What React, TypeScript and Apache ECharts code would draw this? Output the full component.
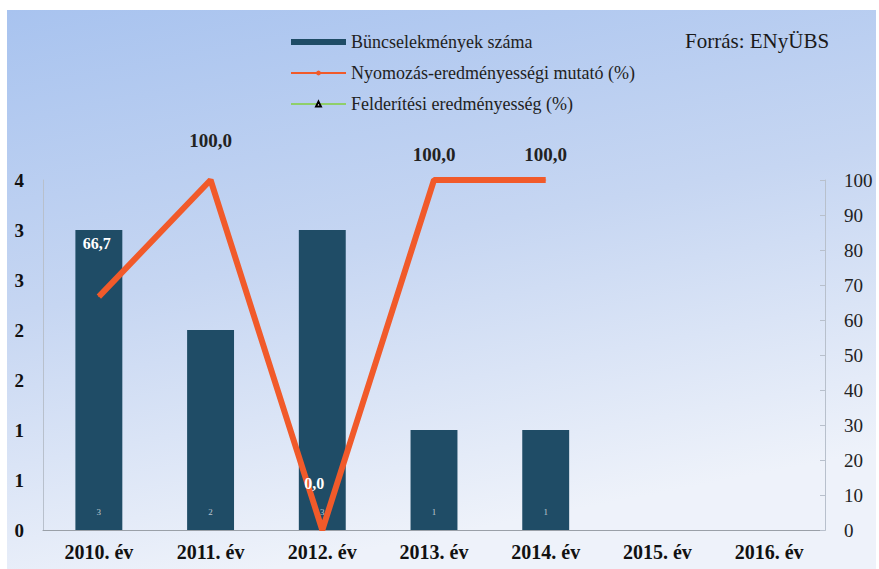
import React, { useEffect, useRef } from "react";
import * as echarts from "echarts";

const categories = ["2010. év", "2011. év", "2012. év", "2013. év", "2014. év", "2015. év", "2016. év"];
const crimeCounts = [3, 2, 3, 1, 1, 0, 0];
const investigationRate = [66.7, 100, 0, 100, 100, null, null];
const detectionRate = [null, null, null, null, null, null, null];
const seriesNames = ["Büncselekmények száma", "Nyomozás-eredményességi mutató (%)", "Felderítési eredményesség (%)"];
const sourceText = "Forrás: ENyÜBS";

// label placement (layout only)
const lineLabelDistance = [45, 30, 38, 16, 16, 0, 0];
const lineLabelShiftX = [-2, 0, -8, 0, 0, 0, 0];

const SERIF = "serif";

export default function App() {
  const ref = useRef<HTMLDivElement>(null);
  useEffect(() => {
    document.body.style.margin = "0";
    const chart = echarts.init(ref.current!, null, { renderer: "svg" });
    const fmt = (v: number) => v.toFixed(1).replace(".", ",");
    const lineData = investigationRate.map((v, i) => {
      if (v === null) return null;
      const inside = v < 90;
      return {
        value: v,
        label: {
          color: inside ? "#ffffff" : "#222222",
          distance: lineLabelDistance[i],
          offset: [lineLabelShiftX[i], 0],
          fontSize: inside ? 16 : 19,
        },
      };
    });
    chart.setOption({
      animation: false,
      backgroundColor: "#ffffff",
      textStyle: { fontFamily: SERIF },
      graphic: [
        {
          type: "rect",
          z: -10,
          silent: true,
          shape: { x: 7, y: 10, width: 869, height: 559 },
          style: {
            fill: new echarts.graphic.LinearGradient(0, 0, 0.3, 1, [
              { offset: 0, color: "#a8c3ef" },
              { offset: 0.5, color: "#c6d6f2" },
              { offset: 1, color: "#eef2fa" },
            ]),
          },
        },
        {
          type: "text",
          left: 685,
          top: 30,
          style: { text: sourceText, font: "21px serif", fill: "#1a1a1a" },
        },
      ],
      legend: {
        orient: "vertical",
        left: 285,
        top: 28,
        itemGap: 13,
        itemWidth: 55,
        itemHeight: 6,
        textStyle: { fontFamily: SERIF, fontSize: 18, color: "#222" },
        data: [
          { name: seriesNames[0], icon: "rect" },
          { name: seriesNames[1] },
          { name: seriesNames[2] },
        ],
      },
      grid: { left: 43, right: 54, top: 180, bottom: 39 },
      xAxis: {
        type: "category",
        data: categories,
        axisLine: { lineStyle: { color: "#9aa0a8", width: 1 } },
        axisTick: { show: false },
        axisLabel: { fontFamily: SERIF, fontWeight: "bold", fontSize: 20, color: "#111", margin: 12 },
      },
      yAxis: [
        {
          type: "value",
          min: 0,
          max: 3.5,
          interval: 0.5,
          position: "left",
          axisLine: { show: true, lineStyle: { color: "#b8c0cc" } },
          axisTick: { show: false },
          splitLine: { show: false },
          axisLabel: {
            fontFamily: SERIF,
            fontWeight: "bold",
            fontSize: 19,
            color: "#111",
            margin: 19,
            formatter: (v: number) => String(Math.round(v)),
          },
        },
        {
          type: "value",
          min: 0,
          max: 100,
          interval: 10,
          position: "right",
          axisLine: { show: true, lineStyle: { color: "#b8c0cc" } },
          axisTick: { show: true, inside: true, length: 5, lineStyle: { color: "#b8c0cc" } },
          splitLine: { show: false },
          axisLabel: { fontFamily: SERIF, fontSize: 19, color: "#222", margin: 19 },
        },
      ],
      series: [
        {
          name: seriesNames[0],
          type: "bar",
          data: crimeCounts,
          barWidth: "42%",
          itemStyle: { color: "#1f4c66" },
          label: {
            show: true,
            position: "insideBottom",
            distance: 14,
            color: "rgba(255,255,255,0.7)",
            fontSize: 9,
            formatter: (p: any) => (p.value > 0 ? String(p.value) : ""),
          },
          z: 2,
        },
        {
          name: seriesNames[1],
          type: "line",
          yAxisIndex: 1,
          data: lineData,
          symbol: "circle",
          symbolSize: 1,
          showSymbol: true,
          lineStyle: { color: "#f15a2a", width: 6 },
          itemStyle: { color: "#f15a2a" },
          label: {
            show: true,
            position: "top",
            fontFamily: SERIF,
            fontWeight: "bold",
            formatter: (p: any) => fmt(p.value),
          },
          z: 3,
        },
        {
          name: seriesNames[2],
          type: "line",
          yAxisIndex: 1,
          data: detectionRate,
          symbol: "triangle",
          symbolSize: 9,
          lineStyle: { color: "#8fcf6a", width: 4 },
          itemStyle: { color: "#ffffff", borderColor: "#000", borderWidth: 2 },
          z: 4,
        },
      ],
    });
    return () => chart.dispose();
  }, []);
  return <div ref={ref} style={{ width: 879, height: 569 }} />;
}
